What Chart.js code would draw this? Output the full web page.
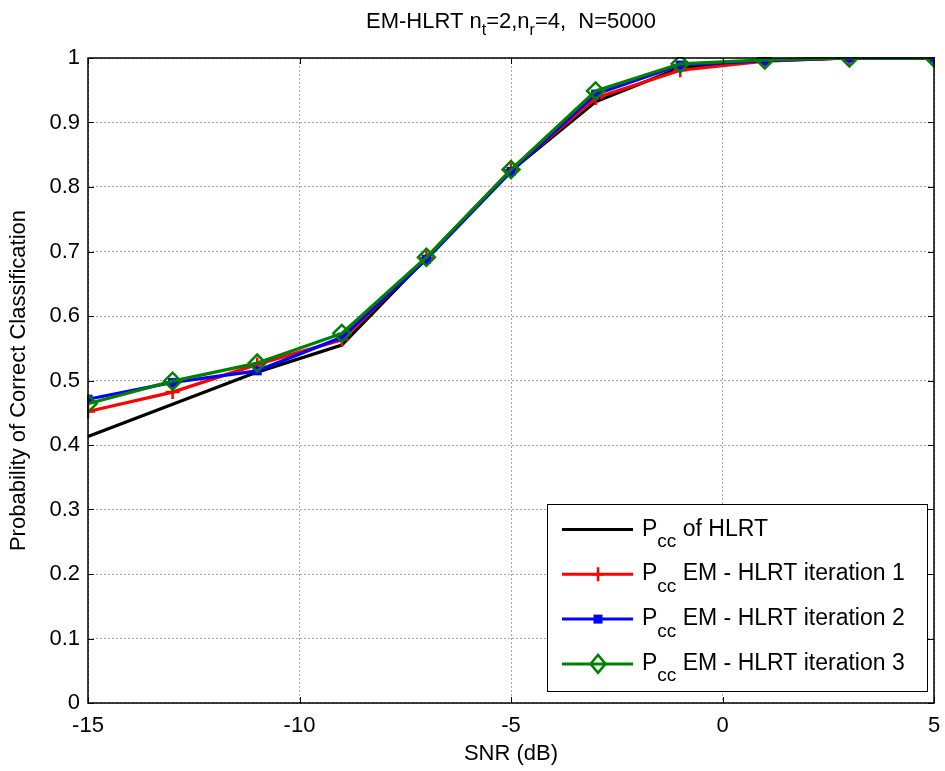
<!DOCTYPE html>
<html>
<head>
<meta charset="utf-8">
<script src="https://cdn.jsdelivr.net/npm/chart.js@4"></script>
<style>
  html, body { margin: 0; padding: 0; background: #fff; }
  canvas { display: block; }
</style>
</head>
<body>
<canvas id="pccChart" width="945" height="771"></canvas>
<script>
// SNR points (dB)
const snr = [-15, -13, -11, -9, -7, -5, -3, -1, 1, 3, 5];

// probability of correct classification
const pccHlrt  = [0.413, 0.463, 0.513, 0.555, 0.690, 0.825, 0.932, 0.985, 0.996, 1.0, 1.0];
const pccIter1 = [0.452, 0.482, 0.525, 0.563, 0.690, 0.826, 0.938, 0.981, 0.995, 1.0, 1.0];
const pccIter2 = [0.471, 0.497, 0.515, 0.567, 0.688, 0.824, 0.944, 0.989, 0.996, 1.0, 1.0];
const pccIter3 = [0.464, 0.499, 0.527, 0.573, 0.691, 0.827, 0.949, 0.991, 0.997, 1.0, 1.0];

const seriesNames = ["of HLRT", "EM - HLRT iteration 1", "EM - HLRT iteration 2", "EM - HLRT iteration 3"];
const xTicks = [-15, -10, -5, 0, 5];
const yTicks = [0, 0.1, 0.2, 0.3, 0.4, 0.5, 0.6, 0.7, 0.8, 0.9, 1];

const FONT = "Arial, 'Liberation Sans', sans-serif";

function toPoints(ys) {
  return snr.map((x, i) => ({ x: x, y: ys[i] }));
}

const styles = [
  { color: "#000000", marker: "none" },
  { color: "#ff0000", marker: "cross" },
  { color: "#0000ff", marker: "rect" },
  { color: "#008000", marker: "rectRot" }
];

function drawMarker(ctx, kind, x, y, color) {
  ctx.save();
  ctx.strokeStyle = color;
  ctx.fillStyle = color;
  ctx.lineWidth = 2.5;
  if (kind === "cross") {
    ctx.beginPath();
    ctx.moveTo(x - 6, y); ctx.lineTo(x + 6, y);
    ctx.moveTo(x, y - 7); ctx.lineTo(x, y + 7);
    ctx.stroke();
  } else if (kind === "rect") {
    ctx.fillRect(x - 4.5, y - 4.5, 9, 9);
  } else if (kind === "rectRot") {
    ctx.beginPath();
    ctx.moveTo(x, y - 9); ctx.lineTo(x + 7.5, y);
    ctx.lineTo(x, y + 9); ctx.lineTo(x - 7.5, y);
    ctx.closePath();
    ctx.stroke();
  }
  ctx.restore();
}

// title, box, inward ticks and the legend (MATLAB look)
const matlabDecor = {
  id: "matlabDecor",
  afterDraw(chart) {
    const ctx = chart.ctx;
    const a = chart.chartArea;
    const xs = chart.scales.x, ys = chart.scales.y;

    ctx.save();
    // axes box
    ctx.strokeStyle = "#000";
    ctx.lineWidth = 1.5;
    ctx.strokeRect(a.left, a.top, a.right - a.left, a.bottom - a.top);
    // inward ticks
    ctx.lineWidth = 1;
    ctx.beginPath();
    yTicks.forEach(v => {
      const py = Math.round(ys.getPixelForValue(v)) + 0.5;
      ctx.moveTo(a.left, py); ctx.lineTo(a.left + 6, py);
      ctx.moveTo(a.right, py); ctx.lineTo(a.right - 6, py);
    });
    xTicks.forEach(v => {
      const px = Math.round(xs.getPixelForValue(v)) + 0.5;
      ctx.moveTo(px, a.bottom); ctx.lineTo(px, a.bottom - 6);
      ctx.moveTo(px, a.top); ctx.lineTo(px, a.top + 6);
    });
    ctx.stroke();

    // title with subscripts
    const parts = [
      ["EM-HLRT n", 0], ["t", 1], ["=2,n", 0], ["r", 1], ["=4,  N=5000", 0]
    ];
    const big = "22px " + FONT, small = "16px " + FONT;
    let total = 0;
    parts.forEach(p => { ctx.font = p[1] ? small : big; total += ctx.measureText(p[0]).width; });
    let tx = (a.left + a.right) / 2 - total / 2;
    ctx.fillStyle = "#000";
    ctx.textBaseline = "alphabetic";
    ctx.textAlign = "left";
    parts.forEach(p => {
      ctx.font = p[1] ? small : big;
      ctx.fillText(p[0], tx, p[1] ? 35 : 28);
      tx += ctx.measureText(p[0]).width;
    });

    // legend
    const lx = 547, ly = 504, lw = 380, lh = 187;
    ctx.fillStyle = "#fff";
    ctx.fillRect(lx, ly, lw, lh);
    ctx.strokeStyle = "#000";
    ctx.lineWidth = 1;
    ctx.strokeRect(lx + 0.5, ly + 0.5, lw, lh);
    seriesNames.forEach((name, i) => {
      const ry = 529.5 + i * 44.8;
      const st = styles[i];
      ctx.strokeStyle = st.color;
      ctx.lineWidth = 3;
      ctx.beginPath();
      ctx.moveTo(562, ry); ctx.lineTo(633, ry);
      ctx.stroke();
      drawMarker(ctx, st.marker, 598, ry, st.color);
      ctx.fillStyle = "#000";
      ctx.font = "23px " + FONT;
      let x0 = 642;
      ctx.fillText("P", x0, ry + 6);
      x0 += ctx.measureText("P").width;
      ctx.font = "19px " + FONT;
      ctx.fillText("cc", x0, ry + 17.5);
      x0 += ctx.measureText("cc").width;
      ctx.font = "23px " + FONT;
      ctx.fillText(" " + name, x0, ry + 6);
    });
    ctx.restore();
  }
};

const datasets = [pccHlrt, pccIter1, pccIter2, pccIter3].map((vals, i) => {
  const st = styles[i];
  return {
    label: seriesNames[i],
    data: toPoints(vals),
    borderColor: st.color,
    backgroundColor: st.color,
    borderWidth: 3.2,
    pointStyle: st.marker === "none" ? false : st.marker,
    pointRadius: st.marker === "rectRot" ? 8.5 : (st.marker === "rect" ? 6.4 : 7),
    pointBorderWidth: st.marker === "rect" ? 0 : 2.5,
    pointBackgroundColor: st.marker === "rect" ? st.color : "rgba(0,0,0,0)",
    pointBorderColor: st.color,
    tension: 0,
    order: 4 - i,
    clip: 1
  };
});

const ctx = document.getElementById("pccChart").getContext("2d");
new Chart(ctx, {
  type: "line",
  data: { datasets: datasets },
  options: {
    responsive: false,
    animation: false,
    devicePixelRatio: 1,
    layout: { padding: { top: 58, right: 9, left: 0, bottom: 0 } },
    plugins: { legend: { display: false }, tooltip: { enabled: false }, title: { display: false } },
    scales: {
      x: {
        type: "linear",
        min: -15, max: 5,
        afterFit: s => { s.height = 68; s.paddingLeft = 0; s.paddingRight = 0; },
        afterBuildTicks: s => { s.ticks = xTicks.map(v => ({ value: v })); },
        ticks: { font: { size: 22, family: FONT }, color: "#000", padding: 10, maxRotation: 0 },
        grid: { color: "#a8a8a8", lineWidth: 1, drawTicks: false },
        border: { display: false, dash: [2, 2] },
        title: { display: true, text: "SNR (dB)", color: "#000", font: { size: 22, family: FONT }, padding: { top: 0, bottom: 4 } }
      },
      y: {
        type: "linear",
        min: 0, max: 1,
        afterFit: s => { s.width = 88; s.paddingTop = 0; s.paddingBottom = 0; },
        afterBuildTicks: s => { s.ticks = yTicks.map(v => ({ value: v })); },
        ticks: { font: { size: 22, family: FONT }, color: "#000", padding: 8, callback: v => String(Math.round(v * 10) / 10) },
        grid: { color: "#a8a8a8", lineWidth: 1, drawTicks: false },
        border: { display: false, dash: [2, 2] },
        title: { display: true, text: "Probability of Correct Classification", color: "#000", font: { size: 22, family: FONT }, padding: { top: 6, bottom: 0 } }
      }
    }
  },
  plugins: [matlabDecor]
});
</script>
</body>
</html>
